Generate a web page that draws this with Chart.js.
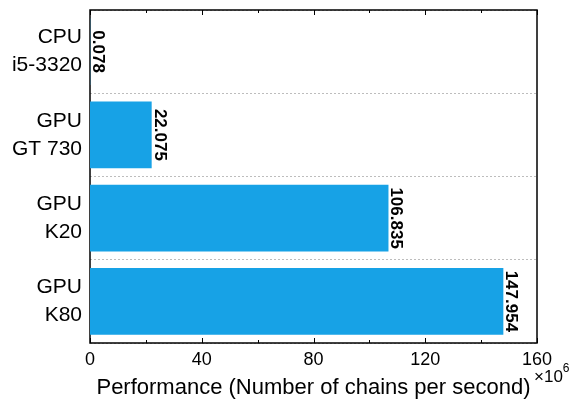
<!DOCTYPE html>
<html>
<head>
<meta charset="utf-8">
<script src="https://cdn.jsdelivr.net/npm/chart.js@4"></script>
<style>
  html, body { margin: 0; padding: 0; background: #fff; }
  canvas { display: block; }
</style>
</head>
<body>
<canvas id="perfChart" width="571" height="400"></canvas>
<script>
// devices (two-line labels) and throughput in millions of chains per second
let devices = [['CPU', 'i5-3320'], ['GPU', 'GT 730'], ['GPU', 'K20'], ['GPU', 'K80']]
let chainsPerSec = [0.078, 22.075, 106.835, 147.954]
let xTicks = [0, 40, 80, 120, 160]
let xMinorTicks = [20, 60, 100, 140]

const FONT = '"Liberation Sans", Arial, sans-serif'

// box around the plot with inward tick marks, top and bottom
const frame = {
    id: 'frame',
    beforeDatasetsDraw(chart) {
        const { ctx, chartArea: a, scales: { x } } = chart
        ctx.save()
        ctx.strokeStyle = '#000'
        ctx.lineWidth = 1
        ctx.beginPath()
        xTicks.concat(xMinorTicks).forEach(v => {
            const px = Math.round(x.getPixelForValue(v)) + 0.5
            const len = xTicks.includes(v) ? 5 : 3
            ctx.moveTo(px, a.bottom); ctx.lineTo(px, a.bottom - len)
            ctx.moveTo(px, a.top); ctx.lineTo(px, a.top + len)
        })
        ctx.stroke()
        ctx.lineWidth = 1.5
        ctx.strokeRect(a.left, a.top, a.right - a.left, a.bottom - a.top)
        ctx.restore()
    },
    afterDraw(chart) {
        // axis multiplier under the last tick label
        const { ctx, chartArea: a } = chart
        ctx.save()
        ctx.fillStyle = '#000'
        ctx.textBaseline = 'middle'
        ctx.font = '17px ' + FONT
        ctx.fillText('\u00d710', a.right - 3, 377)
        const w = ctx.measureText('\u00d710').width
        ctx.font = '12px ' + FONT
        ctx.fillText('6', a.right - 3 + w, 369)
        ctx.restore()
    }
}

// value written sideways just past the end of each bar
const barValues = {
    id: 'barValues',
    afterDatasetsDraw(chart) {
        const { ctx } = chart
        const meta = chart.getDatasetMeta(0)
        ctx.save()
        ctx.fillStyle = '#000'
        ctx.font = 'bold 17px ' + FONT
        ctx.textAlign = 'center'
        ctx.textBaseline = 'alphabetic'
        meta.data.forEach((bar, i) => {
            ctx.save()
            ctx.translate(bar.x + 3, bar.y)
            ctx.rotate(Math.PI / 2)
            ctx.fillText(chainsPerSec[i].toFixed(3), 0, 0)
            ctx.restore()
        })
        ctx.restore()
    }
}

new Chart(document.getElementById('perfChart'), {
    type: 'bar',
    data: {
        labels: devices,
        datasets: [{
            data: chainsPerSec,
            backgroundColor: '#17a2e6',
            borderWidth: 0,
            barPercentage: 0.8,
            categoryPercentage: 1
        }]
    },
    options: {
        indexAxis: 'y',
        responsive: false,
        animation: false,
        devicePixelRatio: 1,
        layout: { padding: { top: 10, right: 34, bottom: 0, left: 0 } },
        plugins: { legend: { display: false }, tooltip: { enabled: false } },
        scales: {
            x: {
                min: 0,
                max: 160,
                afterBuildTicks: s => { s.ticks = xTicks.map(v => ({ value: v })) },
                afterFit: s => { s.height = 57 },
                grid: { display: false, drawTicks: false },
                border: { display: false },
                ticks: { color: '#000', padding: 6, font: { family: FONT, size: 18 } },
                title: {
                    display: true,
                    text: 'Performance (Number of chains per second)',
                    color: '#000',
                    font: { family: FONT, size: 22 },
                    padding: { top: 3, bottom: -1 }
                }
            },
            y: {
                // fixed label column, and no extra room above/below for the labels
                afterFit: s => { s.width = 90; s.paddingTop = 0; s.paddingBottom = 0 },
                grid: { color: '#bdbdbd', lineWidth: 1, drawTicks: false, offset: true },
                border: { display: false, dash: [2, 2] },
                ticks: { color: '#000', padding: 8, font: { family: FONT, size: 21, lineHeight: 1.33 } }
            }
        }
    },
    plugins: [frame, barValues]
})
</script>
</body>
</html>
